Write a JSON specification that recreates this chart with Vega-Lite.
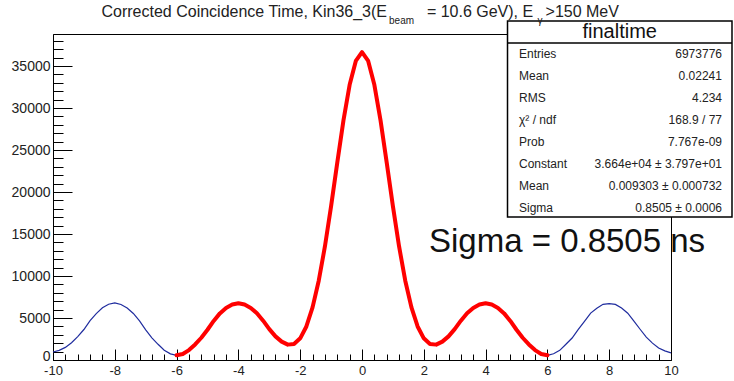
{
  "$schema": "https://vega.github.io/schema/vega-lite/v6.json",
  "width": 618,
  "height": 326,
  "autosize": "none",
  "padding": {"left": 53, "top": 34, "right": 63, "bottom": 21},
  "background": "white",
  "config": {
    "view": {"stroke": "black", "strokeWidth": 1},
    "font": "Liberation Sans",
    "axis": {"grid": false, "domainColor": "black", "tickColor": "black", "labelColor": "#222", "labelFont": "Liberation Sans", "title": null, "labelFlush": false, "labelOverlap": false}
  },
  "data": {"values": [
    {"x": -10, "h": 950}, {"x": -9.8, "h": 1150}, {"x": -9.6, "h": 1500}, {"x": -9.4, "h": 2060}, {"x": -9.2, "h": 2790},
    {"x": -9, "h": 3630}, {"x": -8.8, "h": 4680}, {"x": -8.6, "h": 5530}, {"x": -8.4, "h": 6210}, {"x": -8.2, "h": 6640},
    {"x": -8, "h": 6800}, {"x": -7.8, "h": 6610}, {"x": -7.6, "h": 6190}, {"x": -7.4, "h": 5540}, {"x": -7.2, "h": 4660},
    {"x": -7, "h": 3590}, {"x": -6.8, "h": 2640}, {"x": -6.6, "h": 1870}, {"x": -6.4, "h": 1170}, {"x": -6.2, "h": 730},
    {"x": -6, "h": 560, "f": 560}, {"x": -5.8, "h": 720, "f": 720}, {"x": -5.6, "h": 1180, "f": 1180}, {"x": -5.4, "h": 1850, "f": 1850},
    {"x": -5.2, "h": 2650, "f": 2650}, {"x": -5, "h": 3600, "f": 3600}, {"x": -4.8, "h": 4650, "f": 4650}, {"x": -4.6, "h": 5550, "f": 5550},
    {"x": -4.4, "h": 6200, "f": 6200}, {"x": -4.2, "h": 6600, "f": 6600}, {"x": -4, "h": 6750, "f": 6750}, {"x": -3.8, "h": 6600, "f": 6600},
    {"x": -3.6, "h": 6200, "f": 6200}, {"x": -3.4, "h": 5560, "f": 5560}, {"x": -3.2, "h": 4680, "f": 4680}, {"x": -3, "h": 3670, "f": 3670},
    {"x": -2.8, "h": 2810, "f": 2810}, {"x": -2.6, "h": 2190, "f": 2190}, {"x": -2.4, "h": 1830, "f": 1830}, {"x": -2.2, "h": 1905, "f": 1905},
    {"x": -2, "h": 2580, "f": 2580}, {"x": -1.8, "h": 3990, "f": 3990}, {"x": -1.6, "h": 6260, "f": 6260}, {"x": -1.4, "h": 9440, "f": 9440},
    {"x": -1.2, "h": 13515, "f": 13515}, {"x": -1, "h": 18320, "f": 18320}, {"x": -0.8, "h": 23500, "f": 23500}, {"x": -0.6, "h": 28530, "f": 28530},
    {"x": -0.4, "h": 32760, "f": 32760}, {"x": -0.2, "h": 35600, "f": 35600}, {"x": 0, "h": 36650, "f": 36650}, {"x": 0.2, "h": 35600, "f": 35600},
    {"x": 0.4, "h": 32760, "f": 32760}, {"x": 0.6, "h": 28530, "f": 28530}, {"x": 0.8, "h": 23500, "f": 23500}, {"x": 1, "h": 18320, "f": 18320},
    {"x": 1.2, "h": 13515, "f": 13515}, {"x": 1.4, "h": 9440, "f": 9440}, {"x": 1.6, "h": 6260, "f": 6260}, {"x": 1.8, "h": 3990, "f": 3990},
    {"x": 2, "h": 2580, "f": 2580}, {"x": 2.2, "h": 1905, "f": 1905}, {"x": 2.4, "h": 1830, "f": 1830}, {"x": 2.6, "h": 2190, "f": 2190},
    {"x": 2.8, "h": 2810, "f": 2810}, {"x": 3, "h": 3670, "f": 3670}, {"x": 3.2, "h": 4680, "f": 4680}, {"x": 3.4, "h": 5560, "f": 5560},
    {"x": 3.6, "h": 6200, "f": 6200}, {"x": 3.8, "h": 6600, "f": 6600}, {"x": 4, "h": 6750, "f": 6750}, {"x": 4.2, "h": 6600, "f": 6600},
    {"x": 4.4, "h": 6200, "f": 6200}, {"x": 4.6, "h": 5550, "f": 5550}, {"x": 4.8, "h": 4650, "f": 4650}, {"x": 5, "h": 3600, "f": 3600},
    {"x": 5.2, "h": 2650, "f": 2650}, {"x": 5.4, "h": 1850, "f": 1850}, {"x": 5.6, "h": 1180, "f": 1180}, {"x": 5.8, "h": 720, "f": 720},
    {"x": 6, "h": 560, "f": 560}, {"x": 6.2, "h": 740}, {"x": 6.4, "h": 1150}, {"x": 6.6, "h": 1880}, {"x": 6.8, "h": 2620},
    {"x": 7, "h": 3640}, {"x": 7.2, "h": 4610}, {"x": 7.4, "h": 5580}, {"x": 7.6, "h": 6170}, {"x": 7.8, "h": 6630},
    {"x": 8, "h": 6720}, {"x": 8.2, "h": 6620}, {"x": 8.4, "h": 6180}, {"x": 8.6, "h": 5570}, {"x": 8.8, "h": 4620},
    {"x": 9, "h": 3660}, {"x": 9.2, "h": 2730}, {"x": 9.4, "h": 2010}, {"x": 9.6, "h": 1430}, {"x": 9.8, "h": 1090},
    {"x": 10, "h": 850}
  ]},
  "layer": [
    {
      "mark": {"type": "line", "color": "#1f2c9e", "strokeWidth": 1.2},
      "encoding": {
        "x": {"field": "x", "type": "quantitative",
          "scale": {"domain": [-10, 10], "nice": false, "zero": false},
          "axis": {
            "values": [-10, -9.6, -9.2, -8.8, -8.4, -8, -7.6, -7.2, -6.8, -6.4, -6, -5.6, -5.2, -4.8, -4.4, -4, -3.6, -3.2, -2.8, -2.4, -2, -1.6, -1.2, -0.8, -0.4, 0, 0.4, 0.8, 1.2, 1.6, 2, 2.4, 2.8, 3.2, 3.6, 4, 4.4, 4.8, 5.2, 5.6, 6, 6.4, 6.8, 7.2, 7.6, 8, 8.4, 8.8, 9.2, 9.6, 10],
            "tickCount": 200,
            "labelExpr": "abs(datum.value/2 - round(datum.value/2)) < 0.001 ? '' + round(datum.value) : ''",
            "tickSize": {"condition": {"test": "abs(datum.value/2 - round(datum.value/2)) < 0.001", "value": -11}, "value": -6},
            "labelPadding": 15,
            "labelFontSize": 13
          }
        },
        "y": {"field": "h", "type": "quantitative",
          "scale": {"domain": [0, 38810], "nice": false, "zero": true},
          "axis": {
            "values": [0, 1000, 2000, 3000, 4000, 5000, 6000, 7000, 8000, 9000, 10000, 11000, 12000, 13000, 14000, 15000, 16000, 17000, 18000, 19000, 20000, 21000, 22000, 23000, 24000, 25000, 26000, 27000, 28000, 29000, 30000, 31000, 32000, 33000, 34000, 35000, 36000, 37000, 38000],
            "tickCount": 200,
            "labelExpr": "datum.value % 5000 === 0 ? '' + datum.value : ''",
            "tickSize": {"condition": {"test": "datum.value % 5000 === 0", "value": -19}, "value": -10},
            "labelBaseline": {"condition": {"test": "datum.value === 0", "value": "alphabetic"}, "value": "middle"},
            "labelPadding": 22,
            "labelFontSize": 14
          }
        }
      }
    },
    {
      "transform": [{"filter": "isValid(datum.f)"}],
      "mark": {"type": "line", "color": "#ff0000", "strokeWidth": 4, "strokeJoin": "round", "strokeCap": "round"},
      "encoding": {
        "x": {"field": "x", "type": "quantitative"},
        "y": {"field": "f", "type": "quantitative"}
      }
    },
    {
      "data": {"values": [{}]},
      "mark": {"type": "rect", "fill": "white", "stroke": "black", "strokeWidth": 1.5},
      "encoding": {
        "x": {"datum": 4.709}, "x2": {"datum": 11.974},
        "y": {"datum": 40358}, "y2": {"datum": 17024}
      }
    },
    {
      "data": {"values": [{}]},
      "mark": {"type": "rule", "color": "black", "strokeWidth": 1.5},
      "encoding": {
        "x": {"datum": 4.709}, "x2": {"datum": 11.974},
        "y": {"datum": 37739}
      }
    },
    {
      "data": {"values": [{}]},
      "mark": {"type": "text", "text": "finaltime", "fontSize": 20, "align": "center", "baseline": "middle", "color": "#111"},
      "encoding": {"x": {"datum": 8.34}, "y": {"datum": 39048}}
    },
    {
      "data": {"values": [{}]},
      "mark": {"type": "text", "text": ["Entries", "Mean", "RMS", "χ² / ndf", "Prob", "Constant", "Mean", "Sigma"], "fontSize": 12, "lineHeight": 22, "align": "left", "baseline": "alphabetic", "color": "#222"},
      "encoding": {"x": {"datum": 5.081}, "y": {"datum": 35953}}
    },
    {
      "data": {"values": [{}]},
      "mark": {"type": "text", "text": ["6973776", "0.02241", "4.234", "168.9 / 77", "7.767e-09", "3.664e+04 ± 3.797e+01", "0.009303 ± 0.000732", "0.8505 ± 0.0006"], "fontSize": 12, "lineHeight": 22, "align": "right", "baseline": "alphabetic", "color": "#222"},
      "encoding": {"x": {"datum": 11.65}, "y": {"datum": 35953}}
    },
    {
      "data": {"values": [{}]},
      "mark": {"type": "text", "text": "Sigma = 0.8505 ns", "fontSize": 33, "align": "left", "baseline": "alphabetic", "color": "#111"},
      "encoding": {"x": {"datum": 2.168}, "y": {"datum": 12857}}
    },
    {
      "data": {"values": [{}]},
      "mark": {"type": "text", "text": "Corrected Coincidence Time, Kin36_3(E", "fontSize": 16, "align": "right", "baseline": "alphabetic", "color": "#222"},
      "encoding": {"x": {"datum": 0.809}, "y": {"datum": 40834}}
    },
    {
      "data": {"values": [{}]},
      "mark": {"type": "text", "text": "beam", "fontSize": 10, "align": "left", "baseline": "alphabetic", "color": "#222"},
      "encoding": {"x": {"datum": 0.874}, "y": {"datum": 40001}}
    },
    {
      "data": {"values": [{}]},
      "mark": {"type": "text", "text": "= 10.6 GeV), E", "fontSize": 16, "align": "left", "baseline": "alphabetic", "color": "#222"},
      "encoding": {"x": {"datum": 2.1}, "y": {"datum": 40834}}
    },
    {
      "data": {"values": [{}]},
      "mark": {"type": "text", "text": "γ", "fontSize": 10, "align": "left", "baseline": "alphabetic", "color": "#222"},
      "encoding": {"x": {"datum": 5.68}, "y": {"datum": 40001}}
    },
    {
      "data": {"values": [{}]},
      "mark": {"type": "text", "text": ">150 MeV", "fontSize": 16, "align": "left", "baseline": "alphabetic", "color": "#222"},
      "encoding": {"x": {"datum": 5.94}, "y": {"datum": 40834}}
    }
  ]
}
